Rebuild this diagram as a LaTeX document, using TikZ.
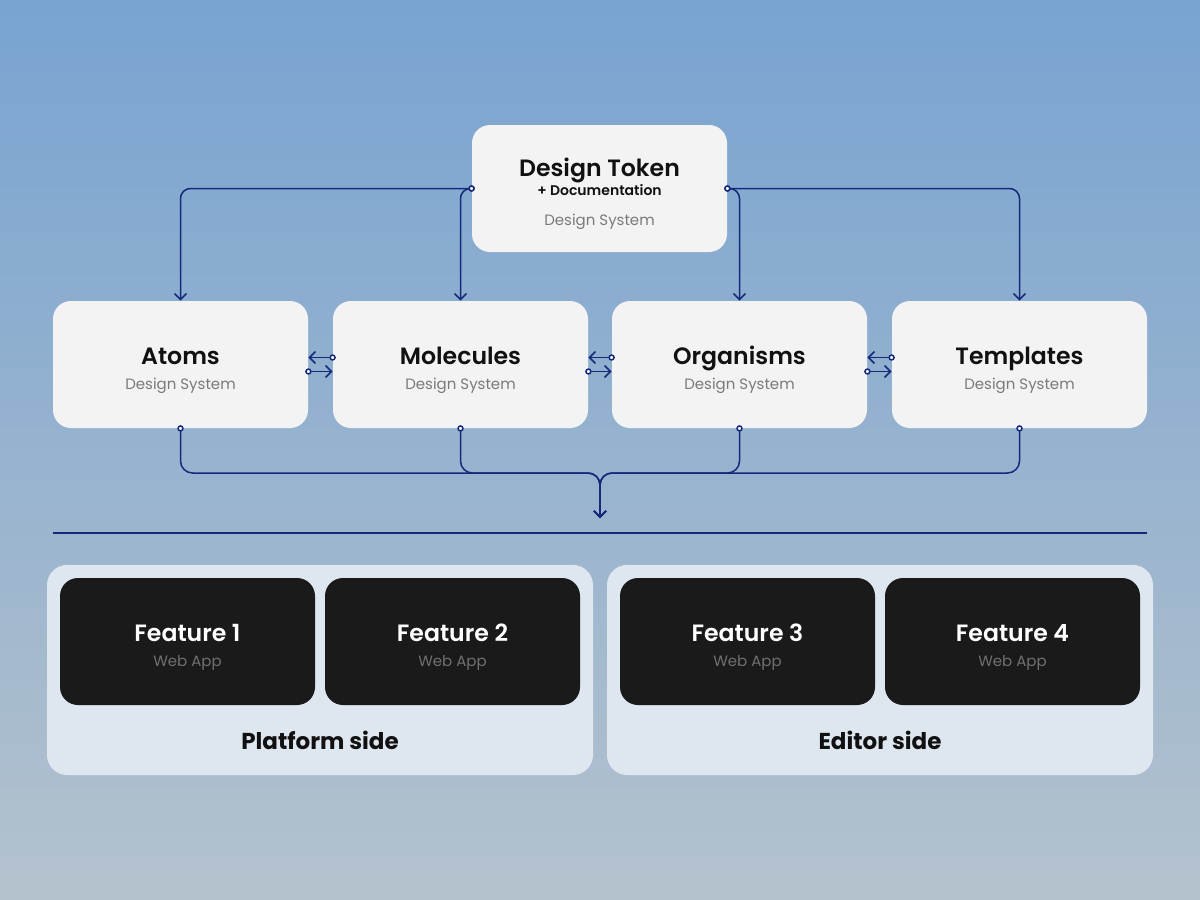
\documentclass[tikz,border=0pt]{standalone}
\usepackage{fontspec}
\setmainfont{Poppins}
\newfontfamily\mediumfont{Poppins SemiBold}
\usetikzlibrary{arrows.meta}
\definecolor{navy}{HTML}{14297A}
\definecolor{bgtop}{HTML}{78A3D1}
\definecolor{bgmid}{HTML}{A2BDD9}
\definecolor{bgbottom}{HTML}{B4C2CD}
\definecolor{boxgray}{HTML}{F3F3F3}
\definecolor{featblack}{HTML}{1A1A1A}
\definecolor{panelblue}{HTML}{DEE6EF}
\definecolor{inkblack}{HTML}{111111}
\definecolor{subgray}{HTML}{7A7A7A}
\definecolor{webgray}{HTML}{707070}
\tikzset{
  dsbox/.style={fill=boxgray, rounded corners=9pt, minimum width=127.5pt, minimum height=63.5pt, inner sep=0pt},
  featbox/.style={dsbox, fill=featblack},
  panel/.style={fill=panelblue, rounded corners=10pt, minimum width=273pt, minimum height=105pt, inner sep=0pt},
  title/.style={font=\mediumfont\fontsize{11.8}{14}\selectfont, text=inkblack, inner sep=0pt, anchor=base},
  note/.style={font=\mediumfont\fontsize{7}{9}\selectfont, text=inkblack, inner sep=0pt, anchor=base},
  sub/.style={font=\fontsize{7.5}{10}\selectfont, text=subgray, inner sep=0pt, anchor=base},
  sidelabel/.style={font=\bfseries\fontsize{11.5}{14}\selectfont, text=inkblack, inner sep=0pt, anchor=base},
  link/.style={draw=navy, line width=0.75pt},
  pin/.style={{Circle[open,fill=white,length=3.2pt,width=3.2pt]}-{Straight Barb[length=3pt,width=6pt]}, shorten <=-1.6pt},
}
\begin{document}
\begin{tikzpicture}[x=0.5pt, y=-0.5pt]
  \useasboundingbox (0,0) rectangle (1200,900);
  \shade[top color=bgtop, middle color=bgmid, bottom color=bgbottom] (0,0) rectangle (1200,900);

  % design token on top
  \node[dsbox] (token) at (599.5,188.5) {};
  \node[title] (tokentitle) at ([yshift=6.25pt]token.center) {Design Token};
  \node[note] (tokennote) at ([yshift=-3.25pt]token.center) {+ Documentation};
  \node[sub] (tokensub) at ([yshift=-18.5pt]token.center) {Design System};

  % design system row
  \node[dsbox] (atoms) at (180.5,364.5) {};
  \node[title] (atomstitle) at (atoms.center) {Atoms};
  \node[sub] (atomssub) at ([yshift=-12.5pt]atoms.center) {Design System};
  \node[dsbox] (molecules) at (460.5,364.5) {};
  \node[title] (moleculestitle) at (molecules.center) {Molecules};
  \node[sub] (moleculessub) at ([yshift=-12.5pt]molecules.center) {Design System};
  \node[dsbox] (organisms) at (739.5,364.5) {};
  \node[title] (organismstitle) at (organisms.center) {Organisms};
  \node[sub] (organismssub) at ([yshift=-12.5pt]organisms.center) {Design System};
  \node[dsbox] (templates) at (1019.5,364.5) {};
  \node[title] (templatestitle) at (templates.center) {Templates};
  \node[sub] (templatessub) at ([yshift=-12.5pt]templates.center) {Design System};

  % token down to the row
  \draw[link,pin,rounded corners=5pt] (token.west) -| (atoms.north);
  \draw[link,pin,rounded corners=5pt] (token.west) -| (molecules.north);
  \draw[link,pin,rounded corners=5pt] (token.east) -| (organisms.north);
  \draw[link,pin,rounded corners=5pt] (token.east) -| (templates.north);

  % between neighbours
  \draw[link,pin] ([yshift=3.5pt]molecules.west) -- ([yshift=3.5pt]atoms.east);
  \draw[link,pin] ([yshift=-3.5pt]atoms.east) -- ([yshift=-3.5pt]molecules.west);
  \draw[link,pin] ([yshift=3.5pt]organisms.west) -- ([yshift=3.5pt]molecules.east);
  \draw[link,pin] ([yshift=-3.5pt]molecules.east) -- ([yshift=-3.5pt]organisms.west);
  \draw[link,pin] ([yshift=3.5pt]templates.west) -- ([yshift=3.5pt]organisms.east);
  \draw[link,pin] ([yshift=-3.5pt]organisms.east) -- ([yshift=-3.5pt]templates.west);

  % merge into the apps
  \coordinate (merge) at (600,473);
  \coordinate (apps) at (600,518);
  \draw[link,pin,rounded corners=6pt] (atoms.south) |- (merge) -- (apps);
  \draw[link,pin,rounded corners=6pt] (molecules.south) |- (merge) -- (apps);
  \draw[link,pin,rounded corners=6pt] (organisms.south) |- (merge) -- (apps);
  \draw[link,pin,rounded corners=6pt] (templates.south) |- (merge) -- (apps);

  \draw[navy, line width=0.75pt] (53,533) -- (1147,533);

  % apps
  \node[panel] (platform) at (320,670) {};
  \node[panel] (editor) at (880,670) {};
  \node[featbox] (feat1) at (187.5,641.5) {};
  \node[featbox] (feat2) at (452.5,641.5) {};
  \node[featbox] (feat3) at (747.5,641.5) {};
  \node[featbox] (feat4) at (1012.5,641.5) {};
  \node[title,text=white] (feat1title) at (feat1.center) {Feature 1};
  \node[sub,text=webgray] (feat1sub) at ([yshift=-12.5pt]feat1.center) {Web App};
  \node[title,text=white] (feat2title) at (feat2.center) {Feature 2};
  \node[sub,text=webgray] (feat2sub) at ([yshift=-12.5pt]feat2.center) {Web App};
  \node[title,text=white] (feat3title) at (feat3.center) {Feature 3};
  \node[sub,text=webgray] (feat3sub) at ([yshift=-12.5pt]feat3.center) {Web App};
  \node[title,text=white] (feat4title) at (feat4.center) {Feature 4};
  \node[sub,text=webgray] (feat4sub) at ([yshift=-12.5pt]feat4.center) {Web App};
  \node[sidelabel] (platformlabel) at (320,749) {Platform side};
  \node[sidelabel] (editorlabel) at (880,749) {Editor side};
\end{tikzpicture}
\end{document}
